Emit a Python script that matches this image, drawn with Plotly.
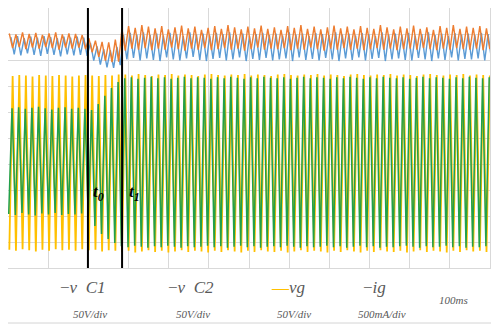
import plotly.graph_objects as go

# ---------------- data (in divisions) ----------------
x_range_ms = [0, 1200]          # 12 div x 100 ms
y_range_div = [0, 10]           # 10 vertical divisions
period_ms = 16.5                # mains period seen on the trace
t0_ms = 199
t1_ms = 284

# vg (yellow) upper / lower turning points, one per cycle
vg_hi = [7.38, 7.42, 7.40, 7.36, 7.42, 7.40, 7.38, 7.42, 7.40, 7.36,
         7.40, 7.42, 7.40, 7.38, 7.42, 7.40, 7.44, 7.44, 7.40, 7.46,
         7.42, 7.38, 7.44, 7.42, 7.46, 7.40, 7.44, 7.42, 7.38, 7.44,
         7.46, 7.42, 7.40, 7.44, 7.42, 7.46, 7.40, 7.44, 7.42, 7.38,
         7.44, 7.46, 7.42, 7.40, 7.44, 7.42, 7.46, 7.40, 7.44, 7.42,
         7.38, 7.44, 7.46, 7.42, 7.40, 7.44, 7.42, 7.46, 7.40, 7.44,
         7.42, 7.38, 7.44, 7.46, 7.42, 7.40, 7.44, 7.42, 7.46, 7.40,
         7.44, 7.42, 7.40]
vg_lo = [0.70, 0.66, 0.72, 0.68, 0.64, 0.70, 0.66, 0.72, 0.68, 0.70,
         0.66, 0.72, 0.68, 0.70, 0.64, 0.68, 0.66, 0.62, 0.66, 0.60,
         0.64, 0.68, 0.62, 0.66, 0.60, 0.64, 0.68, 0.62, 0.66, 0.64,
         0.60, 0.66, 0.62, 0.68, 0.64, 0.60, 0.66, 0.62, 0.68, 0.64,
         0.62, 0.66, 0.60, 0.64, 0.68, 0.62, 0.66, 0.64, 0.60, 0.66,
         0.62, 0.68, 0.64, 0.60, 0.66, 0.62, 0.68, 0.64, 0.62, 0.66,
         0.60, 0.64, 0.68, 0.62, 0.66, 0.64, 0.60, 0.66, 0.62, 0.68,
         0.64, 0.66, 0.62]

# ig (green)
ig_hi = [6.14, 6.18, 6.12, 6.16, 6.20, 6.14, 6.10, 6.16, 6.18, 6.12,
         6.16, 6.12, 6.08, 6.31, 6.62, 6.92, 7.15, 7.30, 7.34, 7.28,
         7.32, 7.36, 7.30, 7.34, 7.28, 7.32, 7.36, 7.30, 7.34, 7.32,
         7.28, 7.34, 7.30, 7.36, 7.32, 7.28, 7.34, 7.30, 7.36, 7.32,
         7.30, 7.34, 7.28, 7.32, 7.36, 7.30, 7.34, 7.32, 7.28, 7.34,
         7.30, 7.36, 7.32, 7.28, 7.34, 7.30, 7.36, 7.32, 7.30, 7.34,
         7.28, 7.32, 7.36, 7.30, 7.34, 7.32, 7.28, 7.34, 7.30, 7.36,
         7.32, 7.30, 7.34]
ig_lo = [2.08, 2.04, 2.12, 2.06, 2.02, 2.10, 2.06, 2.12, 2.04, 2.08,
         2.06, 2.10, 1.96, 1.62, 1.31, 1.12, 0.96, 0.84, 0.80, 0.86,
         0.82, 0.78, 0.84, 0.80, 0.86, 0.82, 0.78, 0.84, 0.80, 0.82,
         0.86, 0.80, 0.84, 0.78, 0.82, 0.86, 0.80, 0.84, 0.78, 0.82,
         0.84, 0.80, 0.86, 0.82, 0.78, 0.84, 0.80, 0.82, 0.86, 0.80,
         0.84, 0.78, 0.82, 0.86, 0.80, 0.84, 0.78, 0.82, 0.80, 0.84,
         0.86, 0.82, 0.78, 0.84, 0.80, 0.82, 0.86, 0.80, 0.84, 0.78,
         0.82, 0.80, 0.84]

# vC2 (orange)
vc2_hi = [9.02, 8.98, 9.06, 9.00, 9.04, 8.96, 9.02, 9.06, 8.98, 9.02,
          9.00, 8.96, 8.84, 8.74, 8.70, 8.68, 8.78, 9.20, 9.30, 9.24,
          9.34, 9.28, 9.22, 9.30, 9.18, 9.26, 9.32, 9.22, 9.28, 9.16,
          9.24, 9.30, 9.20, 9.34, 9.26, 9.18, 9.28, 9.22, 9.32, 9.20,
          9.26, 9.16, 9.30, 9.24, 9.34, 9.20, 9.28, 9.18, 9.26, 9.32,
          9.22, 9.28, 9.18, 9.30, 9.24, 9.20, 9.34, 9.26, 9.18, 9.28,
          9.22, 9.32, 9.20, 9.26, 9.16, 9.30, 9.24, 9.34, 9.20, 9.28,
          9.24, 9.30, 9.22]
vc2_lo = [8.46, 8.50, 8.42, 8.48, 8.44, 8.50, 8.46, 8.40, 8.48, 8.44,
          8.48, 8.42, 8.30, 8.12, 7.98, 7.92, 7.94, 8.36, 8.44, 8.40,
          8.46, 8.38, 8.44, 8.40, 8.48, 8.42, 8.36, 8.44, 8.40, 8.46,
          8.38, 8.42, 8.46, 8.40, 8.44, 8.36, 8.42, 8.48, 8.40, 8.44,
          8.42, 8.46, 8.38, 8.44, 8.40, 8.48, 8.42, 8.36, 8.44, 8.40,
          8.46, 8.40, 8.44, 8.38, 8.42, 8.46, 8.40, 8.44, 8.38, 8.42,
          8.44, 8.40, 8.46, 8.42, 8.38, 8.44, 8.40, 8.46, 8.42, 8.40,
          8.44, 8.38, 8.42]

# vC1 (blue)
vc1_hi = [8.88, 8.92, 8.84, 8.90, 8.86, 8.92, 8.88, 8.84, 8.90, 8.86,
          8.90, 8.86, 8.66, 8.52, 8.42, 8.38, 8.50, 8.96, 9.04, 8.98,
          9.06, 8.96, 9.02, 8.94, 9.04, 9.00, 8.92, 9.06, 8.98, 9.02,
          8.94, 9.04, 9.00, 9.06, 8.96, 9.02, 8.92, 9.00, 9.04, 8.96,
          9.02, 8.94, 9.06, 8.98, 9.02, 8.92, 9.04, 9.00, 8.96, 9.06,
          8.98, 9.02, 8.94, 9.04, 9.00, 8.92, 9.06, 8.98, 9.02, 8.96,
          9.04, 8.94, 9.00, 9.06, 8.96, 9.02, 8.92, 9.04, 8.98, 9.02,
          8.96, 9.04, 9.00]
vc1_lo = [8.22, 8.18, 8.26, 8.20, 8.16, 8.24, 8.20, 8.14, 8.22, 8.18,
          8.20, 8.16, 7.98, 7.82, 7.72, 7.70, 7.80, 8.02, 8.08, 7.98,
          8.06, 8.00, 7.96, 8.10, 8.02, 7.98, 8.06, 8.12, 8.00, 7.96,
          8.04, 8.08, 7.98, 8.02, 8.10, 7.96, 8.04, 8.00, 8.08, 7.98,
          8.02, 8.06, 7.96, 8.10, 8.00, 8.04, 7.98, 8.08, 8.02, 7.96,
          8.06, 8.00, 8.10, 7.98, 8.04, 8.08, 7.96, 8.02, 8.06, 8.00,
          7.98, 8.08, 8.02, 7.96, 8.06, 8.00, 8.10, 7.98, 8.04, 8.02,
          8.06, 7.98, 8.04]

legend_names = ["−<i>v\u00a0\u00a0C1</i>", "−<i>v\u00a0\u00a0C2</i>", "<i>vg</i>", "−<i>ig</i>"]
legend_scales = ["50V/div", "50V/div", "50V/div", "500mA/div"]
time_scale = "100ms"


def zigzag(hi, lo, t_first, hi_first):
    """Join the read turning points in time order."""
    xs, ys = [], []
    half = period_ms / 2
    n = min(len(hi), len(lo))
    for k in range(n):
        t = t_first + k * period_ms
        xs += [t, t + half]
        ys += [hi[k], lo[k]] if hi_first else [lo[k], hi[k]]
    return xs, ys


fig = go.Figure()

x1, y1 = zigzag(vc1_hi, vc1_lo, 7.2, True)
x2, y2 = zigzag(vc2_hi, vc2_lo, 3.2, True)
x3, y3 = zigzag(vg_hi, vg_lo, 3.3, False)
x4, y4 = zigzag(ig_hi, ig_lo, 1.8, False)

fig.add_trace(go.Scatter(x=x1, y=y1, mode="lines", line=dict(color="#5b9bd5", width=1.4), showlegend=False))
fig.add_trace(go.Scatter(x=x2, y=y2, mode="lines", line=dict(color="#ed7d31", width=1.4), showlegend=False))
fig.add_trace(go.Scatter(x=x3, y=y3, mode="lines", line=dict(color="#ffc000", width=1.8), showlegend=False))
fig.add_trace(go.Scatter(x=x4, y=y4, mode="lines", line=dict(color="#22a04b", width=1.5), showlegend=False))

# event markers t0 / t1
for t in (t0_ms, t1_ms):
    fig.add_shape(type="line", x0=t, x1=t, y0=0, y1=1, xref="x", yref="paper",
                  line=dict(color="black", width=2))

lab_font = dict(family="Liberation Serif", size=17, color="black")
fig.add_annotation(x=t0_ms, y=2.88, xref="x", yref="y", xanchor="left", yanchor="middle", xshift=3,
                   text="<b><i>t</i></b><sub><b><i>0</i></b></sub>", showarrow=False, font=lab_font)
fig.add_annotation(x=t1_ms, y=2.88, xref="x", yref="y", xanchor="left", yanchor="middle", xshift=5,
                   text="<b><i>t</i></b><sub><b><i>1</i></b></sub>", showarrow=False, font=lab_font)

# The page adds an 8 px body margin, so the figure is placed at page (8, 8);
# positions below are page pixels converted to paper units of the plot area
# (page x 8..490, page y 8..268).
def px_x(p):
    return (p - 8) / 482.0

def px_y(p):
    return (268 - p) / 260.0

name_x = [82, 191, 288, 374.5]
scale_x = [90, 193, 294, 382]
grey = "#595959"
for i in range(4):
    txt = legend_names[i]
    if i == 2:
        txt = "<span style='color:#ffc000'>—</span>" + txt
    fig.add_annotation(x=px_x(name_x[i]), y=px_y(287), xref="paper", yref="paper",
                       xanchor="center", yanchor="middle",
                       text=txt, showarrow=False,
                       font=dict(family="Liberation Serif", size=17, color=grey))
    fig.add_annotation(x=px_x(scale_x[i]), y=px_y(314), xref="paper", yref="paper",
                       xanchor="center", yanchor="middle",
                       text="<i>" + legend_scales[i] + "</i>", showarrow=False,
                       font=dict(family="Liberation Serif", size=11, color=grey))
fig.add_annotation(x=px_x(453.5), y=px_y(300), xref="paper", yref="paper",
                   xanchor="center", yanchor="middle",
                   text="<i>" + time_scale + "</i>", showarrow=False,
                   font=dict(family="Liberation Serif", size=11, color=grey))

# right and bottom edges of the picture frame
fig.add_shape(type="line", xref="paper", yref="paper",
              x0=px_x(495), x1=px_x(495), y0=px_y(323), y1=px_y(8),
              line=dict(color="#d4d4d4", width=1))
fig.add_shape(type="line", xref="paper", yref="paper",
              x0=px_x(8), x1=px_x(495), y0=px_y(323), y1=px_y(323),
              line=dict(color="#d4d4d4", width=1))

axis_common = dict(showgrid=True, gridcolor="#d9d9d9", gridwidth=1, zeroline=False,
                   showticklabels=False, ticks="", showline=True, mirror=True,
                   linecolor="#d9d9d9", linewidth=1)
fig.update_xaxes(range=x_range_ms, dtick=100, **axis_common)
fig.update_yaxes(range=y_range_div, dtick=1, **axis_common)

fig.update_layout(width=491, height=317, margin=dict(l=0, r=9, t=0, b=57),
                  plot_bgcolor="white", paper_bgcolor="white")

fig.write_html("out.html")
